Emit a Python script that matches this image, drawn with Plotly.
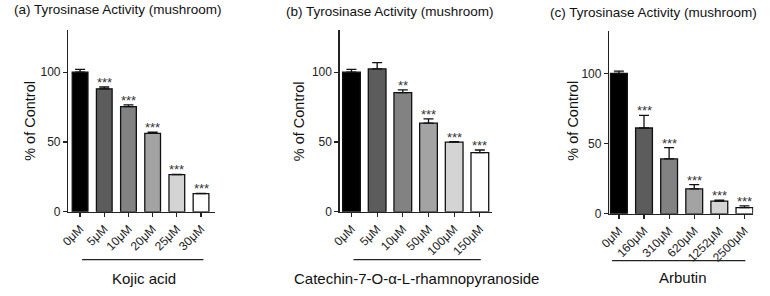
import plotly.graph_objects as go

W, H = 770, 296

# ---------- data ----------
titles = ["(a) Tyrosinase Activity (mushroom)",
          "(b) Tyrosinase Activity (mushroom)",
          "(c) Tyrosinase Activity (mushroom)"]
compounds = ["Kojic acid", "Catechin-7-O-α-L-rhamnopyranoside", "Arbutin"]

cats_a = ["0μM", "5μM", "10μM", "20μM", "25μM", "30μM"]
vals_a = [100, 88.1, 75.4, 56.2, 26.6, 13.0]
errs_a = [2.0, 1.3, 1.2, 0.9, 0.3, 0.2]
sig_a = ["", "***", "***", "***", "***", "***"]

cats_b = ["0μM", "5μM", "10μM", "50μM", "100μM", "150μM"]
vals_b = [100, 102.3, 85.3, 63.6, 49.9, 42.4]
errs_b = [2.0, 4.5, 2.1, 3.0, 0.3, 1.9]
sig_b = ["", "", "**", "***", "***", "***"]

cats_c = ["0μM", "160μM", "310μM", "620μM", "1252μM", "2500μM"]
vals_c = [100, 61.1, 39.1, 17.8, 9.0, 4.4]
errs_c = [1.6, 9.0, 8.1, 3.0, 0.7, 1.2]
sig_c = ["", "***", "***", "***", "***", "***"]

bar_colors = ["#000000", "#5c5c5c", "#828282", "#a3a3a3", "#d4d4d4", "#ffffff"]
yticks = [0, 50, 100]

# ---------- layout geometry (pixels) ----------
panels = [
    dict(cats=cats_a, vals=vals_a, errs=errs_a, sig=sig_a,
         x0=59, x1=208, y0=217, y1=31, xr=[-0.49, 5.59], bw=0.65,
         title_x=2, title_anchor="left", title_y=10, ylab_x=20,
         line=(73, 196, 266), comp_x=136, comp_y=285),
    dict(cats=cats_b, vals=vals_b, errs=errs_b, sig=sig_b,
         x0=334, x1=488, y0=217, y1=31, xr=[-0.46, 5.46], bw=0.69,
         title_x=278, title_anchor="left", title_y=12, ylab_x=293,
         line=(348, 477, 266), comp_x=412, comp_y=285),
    dict(cats=cats_c, vals=vals_c, errs=errs_c, sig=sig_c,
         x0=607, x1=753, y0=219, y1=32, xr=[-0.39, 5.35], bw=0.67,
         title_x=545, title_anchor="left", title_y=13, ylab_x=570,
         line=(610, 745, 267), comp_x=682, comp_y=284),
]

FONT = "Arial, Liberation Sans, sans-serif"
fig = go.Figure()
layout = dict(
    width=W, height=H, margin=dict(l=0, r=0, t=0, b=0),
    paper_bgcolor="white", plot_bgcolor="white", showlegend=False,
    font=dict(family=FONT, color="#222222"),
)
annotations = []
shapes = []

for i, p in enumerate(panels):
    xa = "x" if i == 0 else f"x{i+1}"
    ya = "y" if i == 0 else f"y{i+1}"
    fig.add_trace(go.Bar(
        x=p["cats"], y=p["vals"], xaxis=xa, yaxis=ya, width=p["bw"],
        marker=dict(color=bar_colors, line=dict(color="#111111", width=1.3)),
        error_y=dict(type="data", array=p["errs"], symmetric=False, arrayminus=[0]*6,
                     color="#111111", thickness=1.3, width=5),
    ))
    key_x = "xaxis" if i == 0 else f"xaxis{i+1}"
    key_y = "yaxis" if i == 0 else f"yaxis{i+1}"
    layout[key_x] = dict(
        domain=[p["x0"] / W, p["x1"] / W], anchor=ya, range=p["xr"],
        showline=True, linecolor="#222222", linewidth=1.3, showgrid=False,
        ticks="outside", ticklen=4, tickcolor="#222222", tickwidth=1.2,
        tickangle=-45, tickfont=dict(size=12, family=FONT, color="#222222"),
        zeroline=False, fixedrange=True,
    )
    layout[key_y] = dict(
        domain=[1 - p["y0"] / H, 1 - p["y1"] / H], anchor=xa, range=[0, 130],
        showline=True, linecolor="#222222", linewidth=1.3, showgrid=False,
        ticks="outside", ticklen=4, tickcolor="#222222", tickwidth=1.2,
        tickvals=yticks, tickfont=dict(size=12, family=FONT, color="#222222"),
        zeroline=False, fixedrange=True,
    )
    # significance stars
    for c, v, e, s in zip(p["cats"], p["vals"], p["errs"], p["sig"]):
        if s:
            annotations.append(dict(
                x=c, y=v + e, xref=xa, yref=ya, text=s, showarrow=False,
                yanchor="bottom", yshift=-5, font=dict(size=13, color="#333333", family=FONT),
            ))
    # panel title
    annotations.append(dict(
        x=p["title_x"] / W, y=1 - p["title_y"] / H, xref="paper", yref="paper",
        text=titles[i], showarrow=False, xanchor=p["title_anchor"], yanchor="middle",
        font=dict(size=13.5, color="#111111", family=FONT),
    ))
    # y-axis title
    annotations.append(dict(
        x=p["ylab_x"] / W, y=1 - 124 / H, xref="paper", yref="paper",
        text="% of Control", showarrow=False, textangle=-90,
        xanchor="center", yanchor="middle",
        font=dict(size=14.5, color="#111111", family=FONT),
    ))
    # compound label + underline
    lx0, lx1, ly = p["line"]
    shapes.append(dict(type="line", xref="paper", yref="paper",
                       x0=lx0 / W, x1=lx1 / W, y0=1 - ly / H, y1=1 - ly / H,
                       line=dict(color="#222222", width=1.2)))
    annotations.append(dict(
        x=p["comp_x"] / W, y=1 - p["comp_y"] / H, xref="paper", yref="paper",
        text=compounds[i], showarrow=False, xanchor="center", yanchor="middle",
        font=dict(size=15, color="#111111", family=FONT),
    ))

layout["annotations"] = annotations
layout["shapes"] = shapes
fig.update_layout(**layout)
fig.write_html(
    "out.html",
    config={"displayModeBar": False, "staticPlot": True},
    post_script="document.body.style.margin='0';document.body.style.overflow='hidden';",
)
